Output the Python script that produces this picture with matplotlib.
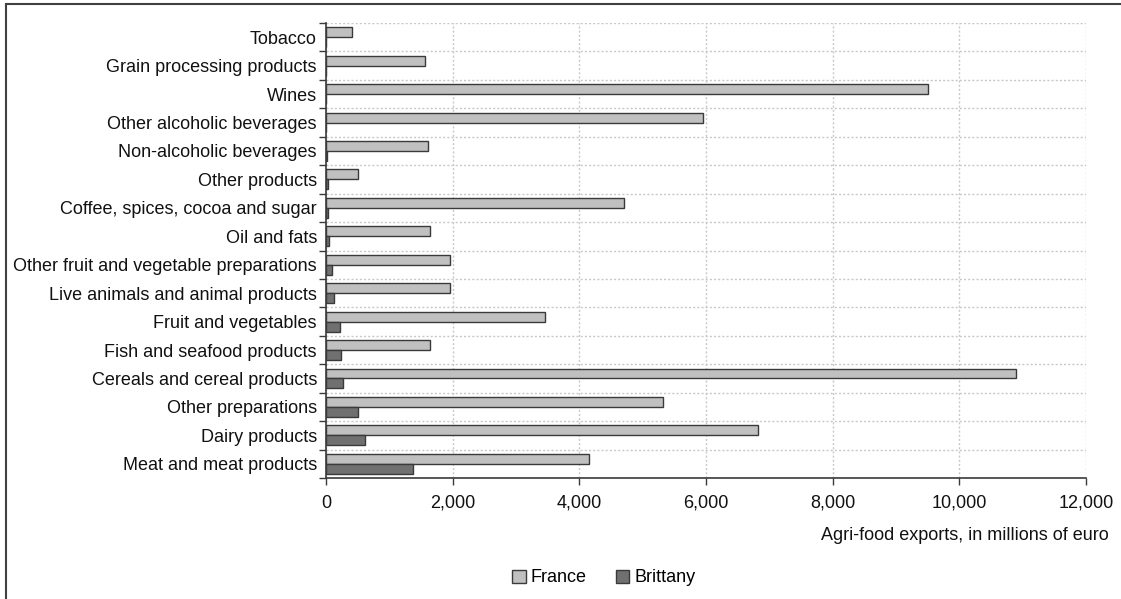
import matplotlib
matplotlib.use("Agg")
import matplotlib.pyplot as plt
from matplotlib.patches import Rectangle
from matplotlib.ticker import FuncFormatter
import numpy as np

plt.rcParams['font.family'] = ['Liberation Sans Narrow', 'Liberation Sans', 'DejaVu Sans']

categories = [
    "Tobacco",
    "Grain processing products",
    "Wines",
    "Other alcoholic beverages",
    "Non-alcoholic beverages",
    "Other products",
    "Coffee, spices, cocoa and sugar",
    "Oil and fats",
    "Other fruit and vegetable preparations",
    "Live animals and animal products",
    "Fruit and vegetables",
    "Fish and seafood products",
    "Cereals and cereal products",
    "Other preparations",
    "Dairy products",
    "Meat and meat products",
]
france = [405, 1560, 9500, 5955, 1610, 510, 4705, 1640, 1950, 1950, 3450, 1645, 10895, 5315, 6815, 4160]
brittany = [0, 0, 0, 0, 10, 30, 35, 42, 100, 130, 226, 242, 274, 510, 610, 1373]
xticks = [0, 2000, 4000, 6000, 8000, 10000, 12000]
xlabel = "Agri-food exports, in millions of euro"
series_names = ["France", "Brittany"]

W, H = 1121, 599
fig = plt.figure(figsize=(W / 100, H / 100), dpi=100)
ax = fig.add_axes([326 / W, 1 - 478 / H, (1086 - 326) / W, (478 - 23) / H])

n = len(categories)
y = np.arange(n)
bh = 0.35
edge = '#3a3a3a'
c_fr = '#c0c0c0'
c_br = '#707070'
fs = 13

# y axis is inverted: France sits just above the category centre, Brittany just below
b1 = ax.barh(y - bh, france, height=bh, align='edge', color=c_fr, edgecolor=edge, linewidth=1.0,
             label=series_names[0], zorder=3)
b2 = ax.barh(y, brittany, height=bh, align='edge', color=c_br, edgecolor=edge, linewidth=1.0,
             label=series_names[1], zorder=3)

ax.set_xlim(0, 12000)
ax.set_ylim(n - 0.5, -0.5)

# y ticks: boundaries (major) and labels (minor)
ax.set_yticks(np.arange(n + 1) - 0.5)
ax.set_yticklabels([])
ax.set_yticks(y, minor=True)
ax.set_yticklabels(categories, minor=True)
ax.tick_params(axis='y', which='major', length=5, width=1, color=edge, direction='out')
ax.tick_params(axis='y', which='minor', length=0, pad=6.5, labelsize=fs, labelcolor='#111111')

ax.set_xticks(xticks)
ax.xaxis.set_major_formatter(FuncFormatter(lambda v, p: f"{int(v):,}"))
ax.tick_params(axis='x', length=5, width=1, color=edge, direction='out', pad=7,
               labelsize=fs, labelcolor='#111111')

ax.grid(True, which='major', axis='both', color='#c8c8c8', linestyle=(0, (1.5, 1.5)), linewidth=1.0, zorder=0)
ax.set_axisbelow(True)

for s in ['top', 'right']:
    ax.spines[s].set_visible(False)
for s in ['left', 'bottom']:
    ax.spines[s].set_color(edge)
    ax.spines[s].set_linewidth(1.2)
    ax.spines[s].set_zorder(4)

fig.text(1109 / W, 1 - 536 / H, xlabel, ha='right', va='center', fontsize=fs, color='#111111')

leg = fig.legend(handles=[b1, b2], labels=series_names, loc='center', ncol=2,
                 bbox_to_anchor=(604 / W, 1 - 578 / H), frameon=False, fontsize=fs,
                 handlelength=0.75, handleheight=0.75, handletextpad=0.3, columnspacing=1.6)

# figure frame (left and top visible)
fig.patches.append(Rectangle((5.5 / W, -0.05), 1.2, 1 - 3.5 / H + 0.05, transform=fig.transFigure,
                             fill=False, edgecolor='#404040', linewidth=1.5))

fig.savefig("out.png", dpi=100)
